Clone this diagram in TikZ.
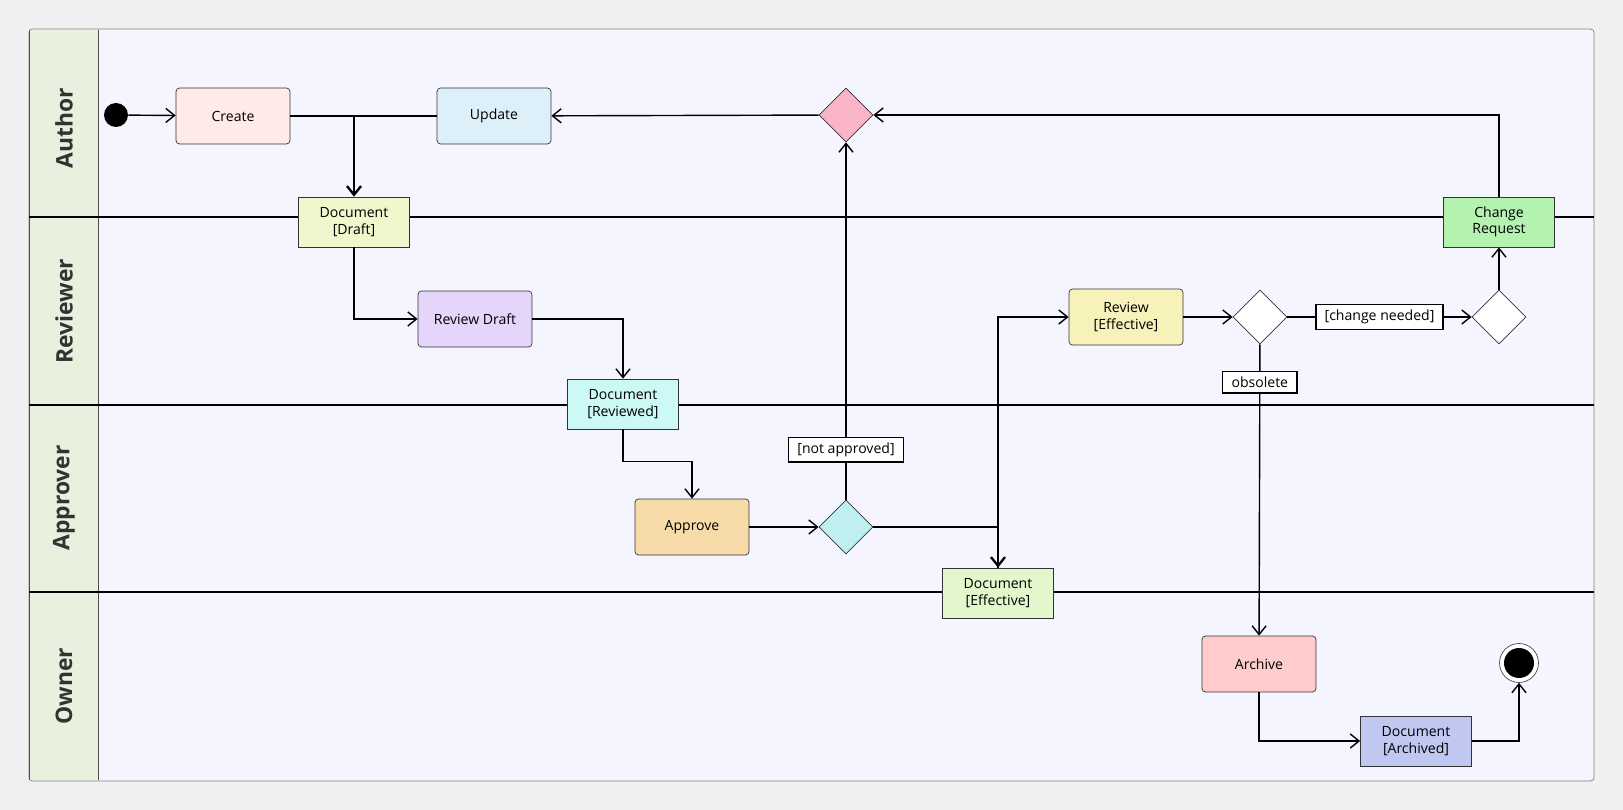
\documentclass[tikz,border=0pt]{standalone}
\usepackage{fontspec}
\setmainfont{Open Sans}
\usetikzlibrary{positioning,shapes.geometric,arrows.meta}
\definecolor{pagebg}{HTML}{F0F0F0}
\definecolor{lanebg}{HTML}{F5F5FF}
\definecolor{headbg}{HTML}{E9F0DE}
\tikzset{
  act/.style={draw=black!80,rounded corners=2pt,minimum width=2.28cm,minimum height=1.12cm,font=\fontsize{8}{9.5}\selectfont,align=center},
  obj/.style={draw=black!80,minimum width=2.22cm,minimum height=1.0cm,font=\fontsize{8}{9.5}\selectfont,align=center},
  dec/.style={draw=black!80,diamond,minimum width=1.08cm,minimum height=1.08cm,inner sep=0pt},
  lbl/.style={draw=black,line width=0.8pt,fill=white,font=\fontsize{8}{9.5}\selectfont,inner xsep=5pt,inner ysep=3pt},
  flow/.style={draw=black,line width=0.8pt,-{Straight Barb[length=5pt,width=8pt]}},
  lane/.style={font=\bfseries\fontsize{13}{15}\selectfont,rotate=90,text=black!80}
}
\begin{document}
\begin{tikzpicture}[x=0.02cm,y=-0.02cm]
\useasboundingbox[fill=pagebg] (0,0) rectangle (1623,810);
% ---------- swimlanes
\draw[fill=lanebg,draw=black!50,rounded corners=2pt] (29,29) rectangle (1594,781);
\fill[headbg] (29,30) rectangle (98,780);
\draw[black!70] (98,30) -- (98,780) (29,30) -- (29,780);
\foreach \y in {217,405,592} \draw[line width=0.9pt] (29,\y) -- (1594,\y);
\node[lane] at (64,128) {Author};
\node[lane] at (64,311) {Reviewer};
\node[lane] at (64,498) {Approver};
\node[lane] at (64,686) {Owner};
% ---------- nodes
\node[circle,fill=black,minimum size=0.48cm,inner sep=0pt] (start) at (116,115) {};
\node[act,fill={rgb,255:red,255;green,234;blue,234}] (create) at (233,116) {Create};
\node[act,fill={rgb,255:red,221;green,239;blue,249}] (update) at (494,116) {Update};
\node[dec,fill={rgb,255:red,249;green,180;blue,200}] (redo) at (846,115) {};
\node[obj,fill={rgb,255:red,241;green,247;blue,204}] (draft) at (354,222) {Document\\{[}Draft{]}};
\node[obj,fill={rgb,255:red,180;green,242;blue,176}] (change) at (1499,222) {Change\\Request};
\node[act,fill={rgb,255:red,229;green,213;blue,250}] (review) at (475,319) {Review Draft};
\node[act,fill={rgb,255:red,247;green,242;blue,186}] (reveff) at (1126,317) {Review\\{[}Effective{]}};
\node[dec,fill=white] (obsq) at (1260,317) {};
\node[dec,fill=white] (chq) at (1499,317) {};
\node[obj,fill={rgb,255:red,204;green,248;blue,245}] (reviewed) at (623,404) {Document\\{[}Reviewed{]}};
\node[act,fill={rgb,255:red,247;green,219;blue,168}] (approve) at (692,527) {Approve};
\node[dec,fill={rgb,255:red,191;green,239;blue,240}] (appq) at (846,527) {};
\node[obj,fill={rgb,255:red,227;green,247;blue,204}] (effective) at (998,593) {Document\\{[}Effective{]}};
\node[act,fill={rgb,255:red,255;green,204;blue,204}] (archive) at (1259,664) {Archive};
\node[obj,fill={rgb,255:red,192;green,200;blue,242}] (archived) at (1416,741) {Document\\{[}Archived{]}};
\node[circle,draw=black!70,fill=white,minimum size=0.78cm,inner sep=0pt] (stop) at (1519,663) {};
\node[circle,fill=black,minimum size=0.6cm,inner sep=0pt] at (stop) {};
% ---------- flows
\draw[flow] (start) -- (create);
\draw[flow,line width=1.3pt] (create) -| (draft);
\draw[line width=0.8pt] (update) -- (update -| draft);
\draw[flow] (draft) |- (review);
\draw[flow] (review) -| (reviewed);
\draw[flow] (reviewed.south) |- ++(69,32) -- (approve.north);
\draw[flow] (approve) -- (appq);
\draw[flow] (appq) -- node[lbl,pos=0.14] {[not approved]} (redo);
\draw[flow,line width=1.3pt] (appq) -| (effective);
\draw[flow] (effective.north) |- (reveff);
\draw[flow] (reveff) -- (obsq);
\draw[flow] (obsq) -- node[lbl] {[change needed]} (chq);
\draw[flow] (chq) -- (change);
\draw[flow] (change) |- (redo);
\draw[flow] (redo) -- (update);
\draw[flow] (obsq) -- node[lbl,pos=0.13] {obsolete} (archive);
\draw[flow] (archive) |- (archived);
\draw[flow] (archived) -| (stop);
\end{tikzpicture}
\end{document}
